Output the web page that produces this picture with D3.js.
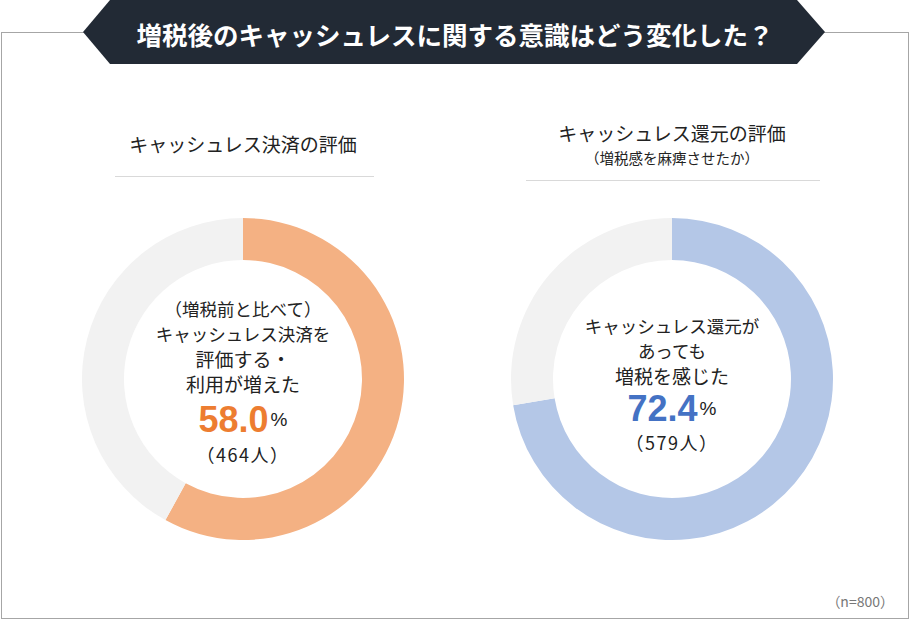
<!DOCTYPE html>
<meta charset="utf-8">
<script src="https://d3js.org/d3.v7.min.js"></script>
<style>
    body { margin: 0; background: #fff; }
    text { font-family: "Noto Sans CJK JP", "Noto Sans", sans-serif; }
</style>
<div id="chart"></div>

<script>
    var width = 910
    var height = 620

    // data
    var title = "増税後のキャッシュレスに関する意識はどう変化した？"
    var panelTitles = ["キャッシュレス決済の評価", "キャッシュレス還元の評価"]
    var panelSubtitles = ["", "（増税感を麻痺させたか）"]
    var centerLabels = [
        ["（増税前と比べて）", "キャッシュレス決済を", "評価する・", "利用が増えた"],
        ["キャッシュレス還元が", "あっても", "増税を感じた"]
    ]
    var percents = [58.0, 72.4]
    var counts = [464, 579]
    var sampleNote = "（n=800）"

    var ringColors = ["#f4b183", "#b4c7e7"]
    var textColors = ["#ed7d31", "#4472c4"]
    var restColor = "#f2f2f2"

    var svg = d3.select("#chart")
        .append("svg")
        .attr("width", width)
        .attr("height", height)

    // outer frame
    svg.append("rect")
        .attr("x", 1.5)
        .attr("y", 32.5)
        .attr("width", 907)
        .attr("height", 586)
        .attr("fill", "none")
        .attr("stroke", "#a6a6a6")
        .attr("stroke-width", 1)

    // title banner
    var banner = [[83, 32], [110, 0], [797, 0], [825, 32], [797, 64], [110, 64]]
    svg.append("polygon")
        .attr("points", banner.map(function (p) { return p.join(","); }).join(" "))
        .attr("fill", "#222a35")

    svg.append("text")
        .attr("x", 455)
        .attr("y", 33)
        .attr("text-anchor", "middle")
        .attr("dominant-baseline", "central")
        .attr("fill", "#fff")
        .attr("font-size", 25.5)
        .attr("font-weight", 700)
        .text(title)

    var centersX = [243, 672]
    var cy = 379
    var outerR = 161
    var innerR = 119

    var pie = d3.pie().sort(null).value(function (d) { return d; })
    var arc = d3.arc().innerRadius(innerR).outerRadius(outerR)

    var headY = [[143], [132, 157]]
    var lineY = [176, 180]
    var lineX = [[115, 374], [526, 820]]

    percents.forEach(function (p, i) {
        var cx = centersX[i]
        var g = svg.append("g")

        // heading
        g.append("text")
            .attr("x", cx)
            .attr("y", headY[i][0])
            .attr("text-anchor", "middle")
            .attr("dominant-baseline", "central")
            .attr("fill", "#222")
            .attr("font-size", 19)
            .text(panelTitles[i])
        if (panelSubtitles[i]) {
            g.append("text")
                .attr("x", cx)
                .attr("y", headY[i][1])
                .attr("text-anchor", "middle")
                .attr("dominant-baseline", "central")
                .attr("fill", "#222")
                .attr("font-size", 14.5)
                .text(panelSubtitles[i])
        }
        g.append("line")
            .attr("x1", lineX[i][0])
            .attr("x2", lineX[i][1])
            .attr("y1", lineY[i] + 0.5)
            .attr("y2", lineY[i] + 0.5)
            .attr("stroke", "#d9d9d9")

        // donut
        var donut = g.append("g").attr("transform", "translate(" + cx + "," + cy + ")")
        donut.selectAll("path")
            .data(pie([p, 100 - p]))
            .enter()
            .append("path")
            .attr("d", arc)
            .attr("fill", function (d, j) { return j === 0 ? ringColors[i] : restColor; })

        // center texts
        var lines = centerLabels[i]
        var step = 25
        var n = lines.length
        var blockTop = i === 0 ? 308 : 325
        lines.forEach(function (t, k) {
            donut.append("text")
                .attr("x", 0)
                .attr("y", blockTop + k * step - cy)
                .attr("text-anchor", "middle")
                .attr("dominant-baseline", "central")
                .attr("fill", "#222")
                .attr("font-size", k >= n - (i === 0 ? 2 : 1) ? 19 : 17.5)
                .text(t)
        })

        var pctY = (i === 0 ? 419 : 408) - cy
        var pt = donut.append("text")
            .attr("x", 0)
            .attr("y", pctY)
            .attr("text-anchor", "middle")
            .attr("dominant-baseline", "central")
        pt.append("tspan")
            .attr("fill", textColors[i])
            .attr("font-size", 36)
            .attr("font-weight", 700)
            .style("font-family", "'Liberation Sans', Arial, sans-serif")
            .text(d3.format(".1f")(p))
        pt.append("tspan")
            .attr("fill", "#222")
            .attr("font-size", 19)
            .attr("dx", 2)
            .style("font-family", "'Liberation Sans', Arial, sans-serif")
            .text("%")

        donut.append("text")
            .attr("x", 0)
            .attr("y", (i === 0 ? 454 : 442) - cy)
            .attr("text-anchor", "middle")
            .attr("dominant-baseline", "central")
            .attr("fill", "#222")
            .attr("font-size", 18)
            .attr("letter-spacing", 1.5)
            .text("（" + counts[i] + "人）")
    })

    svg.append("text")
        .attr("x", 894)
        .attr("y", 601)
        .attr("text-anchor", "end")
        .attr("dominant-baseline", "central")
        .attr("fill", "#777")
        .attr("font-size", 14)
        .text(sampleNote)
</script>
